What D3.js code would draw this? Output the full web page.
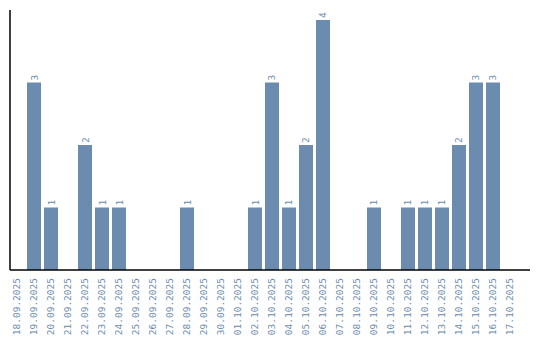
<!DOCTYPE html>
<html>
<head>
<meta charset="UTF-8">
<style>
  body { margin: 0; background: #fff; }
  text { font-family: 'DejaVu Sans Mono', monospace; fill: #6b8cae; }
</style>
<script src="https://d3js.org/d3.v7.min.js"></script>
</head>
<body>
<div id="chart"></div>
<script>
const dates = ["18.09.2025","19.09.2025","20.09.2025","21.09.2025","22.09.2025","23.09.2025",
  "24.09.2025","25.09.2025","26.09.2025","27.09.2025","28.09.2025","29.09.2025","30.09.2025",
  "01.10.2025","02.10.2025","03.10.2025","04.10.2025","05.10.2025","06.10.2025","07.10.2025",
  "08.10.2025","09.10.2025","10.10.2025","11.10.2025","12.10.2025","13.10.2025","14.10.2025",
  "15.10.2025","16.10.2025","17.10.2025"];
const counts = [0,3,1,0,2,1,1,0,0,0,1,0,0,0,1,3,1,2,4,0,0,1,0,1,1,1,2,3,3,0];

const width = 540, height = 340;
const mLeft = 10, mRight = 530, mTop = 10, mBottom = 270;

const svg = d3.select("#chart").append("svg")
  .attr("width", width).attr("height", height);

const x = d3.scaleBand().domain(dates).range([mLeft, 517]).paddingInner(0.176).paddingOuter(0);
const y = d3.scaleLinear().domain([0, d3.max(counts) * 1.04]).range([mBottom, mTop]);

const data = dates.map((d, i) => ({ date: d, value: counts[i] }));

// bars
svg.selectAll("rect.bar")
  .data(data.filter(d => d.value > 0))
  .join("rect")
  .attr("class", "bar")
  .attr("x", d => x(d.date))
  .attr("y", d => y(d.value))
  .attr("width", x.bandwidth())
  .attr("height", d => y(0) - y(d.value))
  .attr("fill", "#6b8cae");

// value labels
svg.selectAll("text.val")
  .data(data.filter(d => d.value > 0))
  .join("text")
  .attr("class", "val")
  .attr("transform", d => `translate(${x(d.date) + x.bandwidth() / 2 + 3.5},${y(d.value) - 2}) rotate(-90)`)
  .style("font-size", "9.5px")
  .text(d => d.value);

// axes
const xAxis = svg.append("g")
  .attr("transform", `translate(0,${mBottom})`)
  .call(d3.axisBottom(x).tickSize(0).tickPadding(0));
xAxis.select(".domain").attr("stroke", "#000").attr("stroke-width", 1.5)
  .attr("d", `M${mLeft},0H${mRight}`);
xAxis.selectAll(".tick text")
  .attr("transform", "rotate(-90)")
  .attr("x", -8)
  .attr("y", 0)
  .attr("dy", "0.35em")
  .style("text-anchor", "end")
  .style("font-size", "9.5px")
  .style("font-family", "'DejaVu Sans Mono', monospace")
  .attr("fill", "#6b8cae");

svg.append("line")
  .attr("x1", mLeft).attr("x2", mLeft)
  .attr("y1", mTop).attr("y2", mBottom)
  .attr("stroke", "#000").attr("stroke-width", 1.5);
</script>
</body>
</html>
